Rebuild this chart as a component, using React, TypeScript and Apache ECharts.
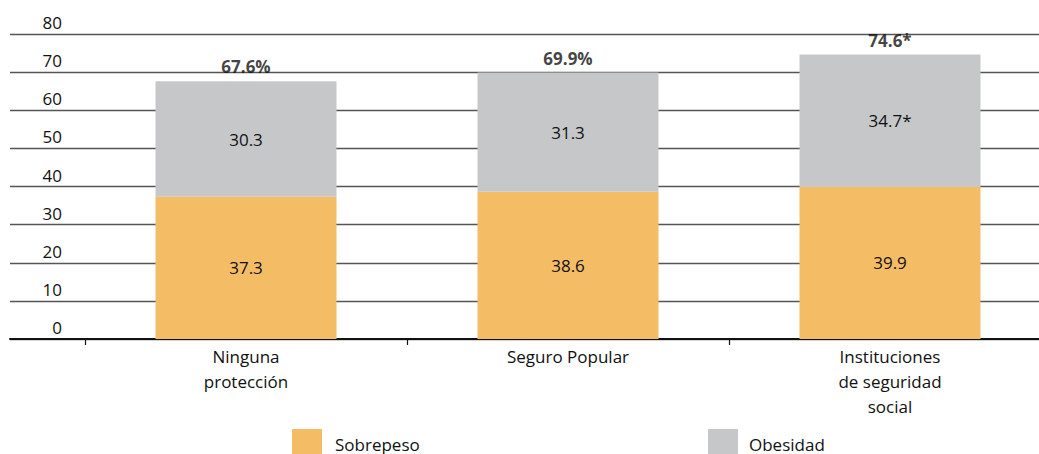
import React, { useEffect, useRef } from "react";
import * as echarts from "echarts";

const categories = ["Ninguna\nprotección", "Seguro Popular", "Instituciones\nde seguridad\nsocial"];
const sobrepeso = [37.3, 38.6, 39.9];
const obesidad = [30.3, 31.3, 34.7];
const obesidadLabels = ["30.3", "31.3", "34.7*"];
const totals = [67.6, 69.9, 74.6];
const totalLabels = ["67.6%", "69.9%", "74.6*"];
const yTicks = [0, 10, 20, 30, 40, 50, 60, 70, 80];

const FONT = "'Open Sans', 'Noto Sans', sans-serif";
const ORANGE = "#F5BC66";
const GRAY = "#C6C7C9";
const INK = "#111";

// The canvas is wider and taller than the visible frame so the last category
// band and the legend swatches can run past the frame's edges.
const VIEW_W = 1039;
const VIEW_H = 454;
const CANVAS_W = 1070;
const CANVAS_H = 480;

export default function App() {
  const ref = useRef<HTMLDivElement>(null);

  useEffect(() => {
    if (!ref.current) return;
    const chart = echarts.init(ref.current, null, { renderer: "svg" });
    const yMax = yTicks[yTicks.length - 1];
    chart.setOption({
      animation: false,
      textStyle: { fontFamily: FONT, color: INK },
      grid: [
        { left: 10, right: CANVAS_W - VIEW_W, top: 34, height: 305 },
        { left: 85, width: 966, top: 34, height: 305 },
      ],
      legend: [
        {
          data: ["Sobrepeso"],
          left: 292,
          top: 429,
          padding: 0,
          itemWidth: 30,
          itemHeight: 30,
          icon: "rect",
          textStyle: { fontFamily: FONT, fontSize: 17, color: INK, padding: [0, 0, 0, 8] },
        },
        {
          data: ["Obesidad"],
          left: 708,
          top: 429,
          padding: 0,
          itemWidth: 30,
          itemHeight: 30,
          icon: "rect",
          textStyle: { fontFamily: FONT, fontSize: 17, color: INK, padding: [0, 0, 0, 6] },
        },
      ],
      xAxis: [
        {
          gridIndex: 0,
          type: "value",
          min: 0,
          max: 1,
          axisLine: { show: true, lineStyle: { color: "#111", width: 2 } },
          axisTick: { show: false },
          axisLabel: { show: false },
          splitLine: { show: false },
        },
        {
          gridIndex: 1,
          type: "category",
          data: categories,
          axisLine: { show: false },
          axisTick: { show: true, length: 6, lineStyle: { color: "#111", width: 1.2 } },
          axisLabel: {
            fontFamily: FONT,
            fontSize: 17,
            color: INK,
            lineHeight: 25,
            margin: 5,
          },
        },
      ],
      yAxis: [
        {
          gridIndex: 0,
          type: "value",
          min: 0,
          max: yMax,
          interval: 10,
          axisLine: { show: false },
          axisTick: { show: false },
          axisLabel: {
            inside: true,
            margin: 52,
            align: "right",
            verticalAlign: "bottom",
            fontFamily: FONT,
            fontSize: 17,
            color: INK,
            padding: [0, 0, 3, 0],
          },
          splitLine: { show: true, lineStyle: { color: "#555", width: 1.3 } },
        },
        {
          gridIndex: 1,
          type: "value",
          min: 0,
          max: yMax,
          interval: 10,
          show: false,
        },
      ],
      series: [
        {
          name: "Sobrepeso",
          type: "bar",
          stack: "total",
          xAxisIndex: 1,
          yAxisIndex: 1,
          barWidth: 181,
          data: sobrepeso,
          itemStyle: { color: ORANGE },
          label: {
            show: true,
            position: "inside",
            fontFamily: FONT,
            fontSize: 17,
            color: INK,
            formatter: (p: any) => sobrepeso[p.dataIndex].toFixed(1),
          },
        },
        {
          name: "Obesidad",
          type: "bar",
          stack: "total",
          xAxisIndex: 1,
          yAxisIndex: 1,
          barWidth: 181,
          data: obesidad,
          itemStyle: { color: GRAY },
          label: {
            show: true,
            position: "inside",
            fontFamily: FONT,
            fontSize: 17,
            color: INK,
            formatter: (p: any) => obesidadLabels[p.dataIndex],
          },
        },
        {
          name: "Total",
          type: "scatter",
          xAxisIndex: 1,
          yAxisIndex: 1,
          symbolSize: 0,
          data: totals,
          label: {
            show: true,
            position: "top",
            distance: 6,
            fontFamily: FONT,
            fontSize: 17,
            fontWeight: "bold",
            color: INK,
            formatter: (p: any) => totalLabels[p.dataIndex],
          },
        },
      ],
    });
    return () => chart.dispose();
  }, []);

  return (
    <div
      style={{
        position: "absolute",
        left: 0,
        top: 0,
        width: VIEW_W,
        height: VIEW_H,
        overflow: "hidden",
        background: "#fff",
      }}
    >
      <div ref={ref} style={{ width: CANVAS_W, height: CANVAS_H }} />
    </div>
  );
}
